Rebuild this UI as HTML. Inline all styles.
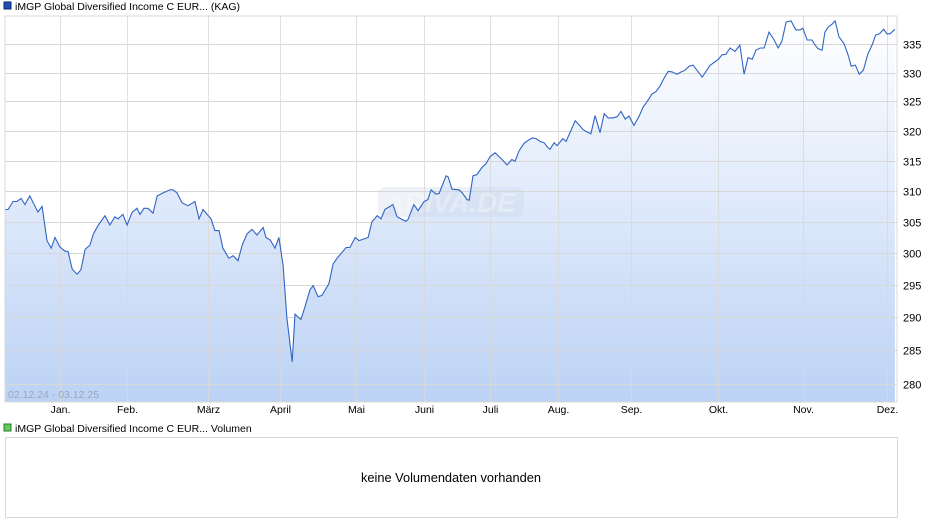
<!DOCTYPE html>
<html><head><meta charset="utf-8"><style>
body{margin:0;background:#fff;font-family:"Liberation Sans",Arial,sans-serif;}
svg{display:block}
</style></head><body>
<svg id="c" width="940" height="526" xmlns="http://www.w3.org/2000/svg">
<defs><linearGradient id="g" x1="0" y1="0" x2="0" y2="1">
<stop offset="0" stop-color="#ffffff"/><stop offset="1" stop-color="#bcd2f5"/></linearGradient></defs>
<rect x="4" y="2" width="7" height="7" fill="#1c4fb0" stroke="#0a2a70" stroke-width="1"/>
<text x="15" y="10" font-size="10.5" fill="#000">iMGP Global Diversified Income C EUR... (KAG)</text>
<g id="grid"></g>
<path id="area" fill="url(#g)"/>
<g id="vgrid"></g>
<g>
<rect x="378" y="187" width="146" height="30" rx="8" fill="#c8d4e6" fill-opacity="0.3"/>
<text x="450" y="212" font-size="28" font-style="italic" font-weight="bold" text-anchor="middle" fill="#fff" fill-opacity="0.3">ARIVA.DE</text>
</g>
<path id="line" fill="none" stroke="#3064c4" stroke-width="1.1"/>
<rect x="5" y="16" width="892" height="386" fill="none" stroke="#d8d8d8"/>
<text x="8" y="398" font-size="10.5" fill="#9aa6b8">02.12.24 - 03.12.25</text>
<g id="yl"></g>
<g id="xl"></g>
<rect x="4" y="424" width="7" height="7" fill="#5ccc5c" stroke="#2a7a2a"/>
<text x="15" y="432" font-size="10.5" fill="#000">iMGP Global Diversified Income C EUR... Volumen</text>
<rect x="5.5" y="437.5" width="892" height="80" fill="#fff" stroke="#d8d8d8"/>
<text x="451" y="482" font-size="12.8" text-anchor="middle" fill="#000">keine Volumendaten vorhanden</text>
</svg>
<script>
const days=[0,0.9,2.3,3.4,4.6,5.7,7.1,9.4,10.6,12.0,13.2,14.3,15.7,17.2,18.0,19.2,20.6,21.7,22.9,24.3,25.2,26.6,28.6,30.0,31.4,32.3,33.7,34.9,36.3,37.7,38.6,39.7,40.9,42.3,43.5,45.2,47.2,48.0,49.2,50.6,52.3,54.3,55.5,56.6,58.9,60.0,61.2,62.3,64.0,65.2,66.6,67.8,69.2,70.6,72.0,73.8,74.6,75.8,77.2,78.3,79.5,80.6,82.1,82.9,84.6,85.8,87.2,88.1,89.5,90.6,92.6,93.8,94.9,97.5,98.6,100.1,101.2,103.8,104.9,106.4,107.5,108.6,110.9,112.1,114.6,115.2,116.9,118.1,119.8,120.9,121.8,123.2,124.1,126.1,126.7,127.8,129.8,130.7,132.1,132.7,133.8,134.9,136.4,137.5,138.7,140.1,142.1,143.5,144.9,145.8,146.9,148.4,149.8,150.7,151.8,153.0,154.1,155.2,155.8,157.0,157.8,159.5,160.4,163.0,164.1,165.3,166.1,167.5,168.7,170.1,171.3,172.4,173.8,175.0,176.1,177.3,178.4,179.8,181.3,182.4,183.8,185.0,186.1,187.3,188.4,189.6,190.7,192.1,193.3,194.4,195.6,196.7,197.8,199.3,200.4,201.6,202.4,203.9,205.0,206.1,207.3,208.7,210.1,211.3,212.4,213.6,214.7,215.9,217.0,218.4,219.9,221.0,222.1,223.3,224.7,226.1,227.3,228.1,229.3,230.7,231.6,232.4,233.6,234.4,235.3,236.4,237.3,238.4,239.9,241.1,241.9,243.1,244.2,245.4,246.6,248.0,248.9,250.0,251.2,252.1,253.0,254.4];
const values=[307,307,308.3,308.3,308.8,307.8,309.2,306.6,307.5,302,300.8,302.5,301,300.3,300.3,297.5,296.7,297.4,300.6,301.3,303,304.4,306,304.5,305.8,305.5,306.2,304.5,306.5,307.2,306.2,307.2,307.2,306.4,309.2,309.7,310.2,310.2,309.7,308.1,307.6,308.3,305.5,307,305.5,303.6,303.6,300.8,299.2,299.6,298.8,301.3,303.1,303.8,302.9,304.1,302.5,302.1,300.8,302.5,298.1,289.9,283.3,290.5,289.7,291.7,294.3,294.9,293.2,293.4,295.2,298.3,299.2,300.9,300.9,302.5,302,302.5,305,306,305.5,307,307.8,305.8,305.1,305.4,307.8,306.8,308.3,308.6,310.2,309.5,309.6,312.5,312.3,310.3,310.2,309.7,308.6,308.5,312.5,312.7,313.9,314.5,315.7,316.3,315.2,314.3,315.2,314.9,316.6,317.9,318.5,318.8,318.7,318.2,318,317.2,316.9,318,317.5,318.7,318.2,321.7,321,320.2,319.9,319.5,322.6,319.7,322.9,322.2,322.2,322.4,323.3,322,322.5,320.9,322.5,324,325.2,326.3,326.7,327.7,329,330.2,330.1,329.7,330.1,330.4,331.1,331.3,330.4,329.2,330.2,331.3,331.6,332.3,333.1,333.2,334.3,333.7,334.8,329.7,332.6,332.3,333.9,334.3,334.3,337.1,335.7,334.3,335.5,338.9,339.1,337.5,337.5,337.8,335.7,335.7,334.8,334.2,333.9,337.1,338,338.5,339.1,336.3,335,332.9,331.1,331.3,329.7,330.4,333.1,335,336.6,336.8,337.6,336.8,336.8,337.6];
const yTicks=[335,330,325,320,315,310,305,300,295,290,285,280];
const monthLabels=["Jan.","Feb.","März","April","Mai","Juni","Juli","Aug.","Sep.","Okt.","Nov.","Dez."];
const monthDays=[15.7,34.9,58.0,78.6,100.4,119.8,138.7,158.1,179.0,203.9,228.1,252.2];
const NS="http://www.w3.org/2000/svg";
const X0=5,X1=897,Dmax=255;
function xs(d){return X0+d*(X1-X0)/Dmax;}
function ys(v){return 44+1896*(Math.log(335)-Math.log(v));}
const vg=document.getElementById('vgrid'),yl=document.getElementById('yl'),xl=document.getElementById('xl');
yTicks.forEach(v=>{
 const y=Math.round(ys(v))+0.5;
 const l=document.createElementNS(NS,'line');
 l.setAttribute('x1',X0);l.setAttribute('x2',X1);l.setAttribute('y1',y);l.setAttribute('y2',y);
 l.setAttribute('stroke','#d8d8d8');
 
 
 vg.appendChild(l);
 const t=document.createElementNS(NS,'text');
 t.setAttribute('x',903);t.setAttribute('y',y+4);t.setAttribute('font-size','11');t.textContent=v;
 
 
 yl.appendChild(t);
});
monthDays.forEach((d,i)=>{
 const x=Math.round(xs(d))+0.5;
 const l=document.createElementNS(NS,'line');
 l.setAttribute('x1',x);l.setAttribute('x2',x);l.setAttribute('y1',16);l.setAttribute('y2',402);
 l.setAttribute('stroke','#d8d8d8');l.setAttribute('stroke-opacity','0.8');
 
 
 vg.appendChild(l);
 const t=document.createElementNS(NS,'text');
 t.setAttribute('x',x);t.setAttribute('y',413);t.setAttribute('font-size','10.5');t.setAttribute('text-anchor','middle');t.textContent=monthLabels[i];
 
 
 xl.appendChild(t);
});
let p='';
days.forEach((d,i)=>{p+=(i?'L':'M')+xs(d).toFixed(1)+','+ys(values[i]).toFixed(1);});
document.getElementById('line').setAttribute('d',p);
document.getElementById('area').setAttribute('d',p+'L'+xs(days[days.length-1]).toFixed(1)+',402L'+X0+',402Z');
</script>
</body></html>
